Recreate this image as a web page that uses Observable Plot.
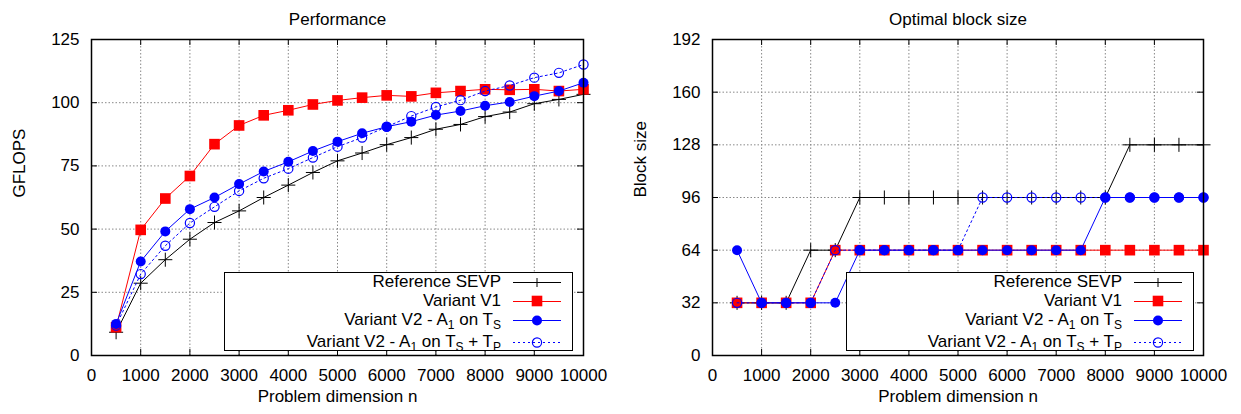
<!DOCTYPE html>
<html>
<head>
<meta charset="utf-8">
<script src="https://cdn.jsdelivr.net/npm/d3@7"></script>
<script src="https://cdn.jsdelivr.net/npm/@observablehq/plot@0.6"></script>
<style>
  html, body { margin: 0; padding: 0; background: #fff; }
  body { font-family: "Liberation Sans", Arial, Helvetica, sans-serif; }
  #wrap { position: relative; width: 1241px; height: 414px; display: flex; }
  .panel { position: relative; height: 414px; }
  .legend { position: absolute; box-sizing: border-box; border: 1px solid #000; background: #fff; }
  .row { position: absolute; left: 0; right: 0; height: 20px; }
  .lab { position: absolute; right: 71px; top: 0; line-height: 20px; font-size: 17px; white-space: nowrap; color: #000; }
  .lab sub { font-size: 12px; vertical-align: -4px; line-height: 0; }
  .row svg { position: absolute; right: 0; top: 0; }
</style>
</head>
<body>
<div id="wrap">
  <div class="panel" id="left" style="width:620px"></div>
  <div class="panel" id="right" style="width:621px"></div>
</div>
<script>
// ---------- data ----------
const dims = [500,1000,1500,2000,2500,3000,3500,4000,4500,5000,5500,6000,6500,7000,7500,8000,8500,9000,9500,10000];

const gflopsSEVP   = [9.2, 28.6, 37.9, 46.0, 52.6, 57.2, 62.5, 67.4, 72.4, 77.0, 80.1, 83.4, 86.2, 89.5, 91.4, 94.5, 96.3, 99.6, 101.3, 103.3];
const gflopsV1     = [11.2, 49.7, 62.1, 71.0, 83.6, 91.0, 95.0, 97.0, 99.3, 100.9, 102.0, 102.9, 102.5, 103.9, 104.6, 105.3, 105.1, 105.3, 104.6, 105.3];
const gflopsV2TS   = [12.5, 37.2, 49.1, 57.9, 62.5, 67.8, 72.8, 76.6, 80.9, 84.6, 87.9, 90.5, 92.5, 95.1, 96.7, 98.8, 100.3, 102.6, 104.6, 107.9];
const gflopsV2TSTP = [11.8, 32.2, 43.4, 52.4, 58.8, 65.1, 70.1, 73.9, 78.3, 82.6, 86.2, 90.5, 94.7, 98.3, 101.0, 104.6, 106.8, 109.9, 111.8, 115.1];

const blockSEVP   = [32,32,32,64,64,96,96,96,96,96,96,96,96,96,96,96,128,128,128,128];
const blockV1     = [32,32,32,32,64,64,64,64,64,64,64,64,64,64,64,64,64,64,64,64];
const blockV2TS   = [64,32,32,32,32,64,64,64,64,64,64,64,64,64,64,96,96,96,96,96];
const blockV2TSTP = [32,32,32,32,64,64,64,64,64,64,96,96,96,96,96,96,96,96,96,96];

const xTicks = [0,1000,2000,3000,4000,5000,6000,7000,8000,9000,10000];
const gflopsTicks = [0,25,50,75,100,125];
const blockTicks = [0,32,64,96,128,160,192];

const seriesNames = ["Reference SEVP", "Variant V1", "Variant V2 - A<sub>1</sub> on T<sub>S</sub>", "Variant V2 - A<sub>1</sub> on T<sub>S</sub> + T<sub>P</sub>"];

// ---------- styles per series ----------
const styles = [
  {stroke: "#000", dash: null, dot: {symbol: "plus", r: 4.6, stroke: "#000", fill: "none", strokeWidth: 1}},
  {stroke: "#ff0000", dash: null, dot: {symbol: "square", r: 6, fill: "#ff0000"}},
  {stroke: "#0000ff", dash: null, dot: {symbol: "circle", r: 5, fill: "#0000ff"}},
  {stroke: "#0000ff", dash: "2,3", dot: {symbol: "circle", r: 4.6, stroke: "#0000ff", fill: "none", strokeWidth: 1.2}}
];

const H = 414, MT = 39, MB = 59;
const FONT = '"Liberation Sans", Arial, Helvetica, sans-serif';
const FS = 17;

function panel({width, ml, mr, yDomain, yTicks, seriesValues, title, ylabel}) {
  const pw = width - ml - mr, ph = H - MT - MB;
  const marks = [];
  // grid
  marks.push(Plot.ruleX(xTicks.slice(1, -1), {x: d => d, stroke: "#888", strokeWidth: 1, strokeDasharray: "1.5,2"}));
  marks.push(Plot.ruleY(yTicks.slice(1, -1), {y: d => d, stroke: "#888", strokeWidth: 1, strokeDasharray: "1.5,2"}));
  // inward ticks (all four sides)
  marks.push(Plot.ruleX(xTicks, {x: d => d, stroke: "#000", insetTop: ph - 6}));
  marks.push(Plot.ruleX(xTicks, {x: d => d, stroke: "#000", insetBottom: ph - 6}));
  marks.push(Plot.ruleY(yTicks, {y: d => d, stroke: "#000", insetRight: pw - 6}));
  marks.push(Plot.ruleY(yTicks, {y: d => d, stroke: "#000", insetLeft: pw - 6}));
  // series
  seriesValues.forEach((vals, i) => {
    const data = dims.map((n, j) => ({n, v: vals[j]}));
    const s = styles[i];
    marks.push(Plot.line(data, {x: "n", y: "v", stroke: s.stroke, strokeWidth: 1, strokeDasharray: s.dash || undefined}));
    marks.push(Plot.dot(data, {x: "n", y: "v", ...s.dot}));
  });
  marks.push(Plot.frame({stroke: "#000", strokeWidth: 1.5}));
  // titles & labels
  marks.push(Plot.text([title], {text: d => d, frameAnchor: "top", dy: -27, fontSize: FS}));
  marks.push(Plot.text(["Problem dimension n"], {text: d => d, frameAnchor: "bottom", dy: 46, fontSize: FS}));
  marks.push(Plot.text([ylabel], {text: d => d, frameAnchor: "left", dx: -72, rotate: -90, fontSize: FS}));

  return Plot.plot({
    width, height: H,
    marginLeft: ml, marginRight: mr, marginTop: MT, marginBottom: MB,
    style: {fontFamily: FONT, fontSize: FS + "px", background: "#fff", color: "#000", overflow: "visible"},
    x: {domain: [0, 10000], ticks: xTicks, tickFormat: d3.format("d"), tickSize: 0, tickPadding: 13, label: null},
    y: {domain: yDomain, ticks: yTicks, tickFormat: d3.format("d"), tickSize: 0, tickPadding: 12, label: null},
    marks
  });
}

function legendSample(i) {
  const s = styles[i];
  const dash = s.dash ? ` stroke-dasharray="${s.dash}"` : "";
  let m = "";
  if (i === 0) m = `<path d="M30.5,10.5h9M35,6v9" stroke="#000" stroke-width="1" fill="none"/>`;
  if (i === 1) m = `<rect x="29.7" y="4.7" width="10.6" height="10.6" fill="#ff0000"/>`;
  if (i === 2) m = `<circle cx="35" cy="10.5" r="5" fill="#0000ff"/>`;
  if (i === 3) m = `<circle cx="35" cy="10.5" r="4.6" fill="none" stroke="#0000ff" stroke-width="1.2"/>`;
  return `<svg width="70" height="20"><line x1="11" y1="10.5" x2="59" y2="10.5" stroke="${s.stroke}" stroke-width="1"${dash}/>${m}</svg>`;
}

function legend(left, top, width) {
  const div = document.createElement("div");
  div.className = "legend";
  div.style.left = left + "px";
  div.style.top = top + "px";
  div.style.width = width + "px";
  div.style.height = "79px";
  const rowY = [9.5, 28.5, 47.5, 69.5];
  seriesNames.forEach((name, i) => {
    const r = document.createElement("div");
    r.className = "row";
    r.style.top = (rowY[i] - 10 - 1) + "px";
    r.innerHTML = `<span class="lab">${name}</span>` + legendSample(i);
    div.appendChild(r);
  });
  return div;
}

const left = document.getElementById("left");
left.appendChild(panel({width: 620, ml: 91, mr: 37, yDomain: [0, 125], yTicks: gflopsTicks,
  seriesValues: [gflopsSEVP, gflopsV1, gflopsV2TS, gflopsV2TSTP], title: "Performance", ylabel: "GFLOPS"}));
left.appendChild(legend(224, 272, 349));

const right = document.getElementById("right");
right.appendChild(panel({width: 621, ml: 92, mr: 38, yDomain: [0, 192], yTicks: blockTicks,
  seriesValues: [blockSEVP, blockV1, blockV2TS, blockV2TSTP], title: "Optimal block size", ylabel: "Block size"}));
right.appendChild(legend(226, 272, 348));
</script>
</body>
</html>
